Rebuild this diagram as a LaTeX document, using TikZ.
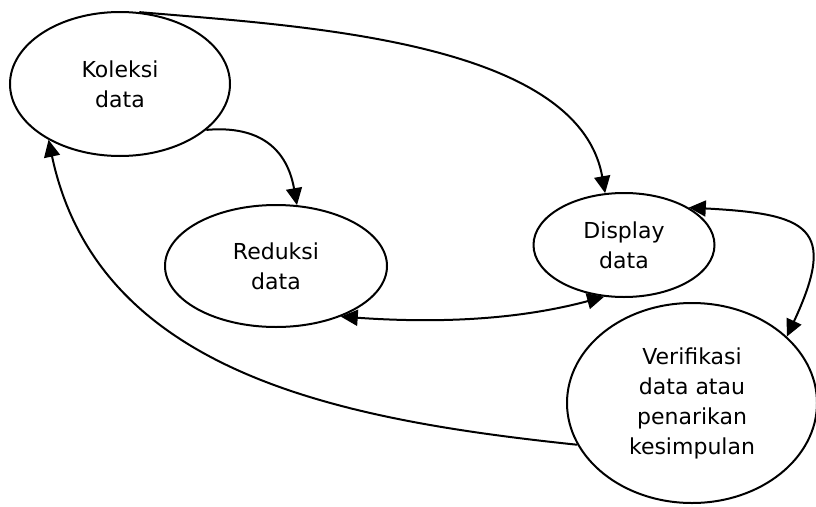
\documentclass[tikz,border=0pt]{standalone}
\usepackage{fontspec}
\setmainfont{DejaVu Sans}
\usepackage{tikz}
\usetikzlibrary{shapes.geometric, arrows.meta}
\tikzstyle{flow} = [line width=2pt, ->, >={Triangle[length=17pt,width=16pt]}]
\tikzstyle{stage} = [ellipse, draw=black, line width=2pt, inner sep=0pt, align=center, font={\fontsize{22}{30}\selectfont}]

\begin{document}
\begin{tikzpicture}[x=1pt, y=-1pt]
  \useasboundingbox (0,0) rectangle (816,506);

  % Nodes
  \node (kol) [stage, minimum width=220pt, minimum height=144pt] at (120,84) {Koleksi\\data};
  \node (red) [stage, minimum width=222pt, minimum height=122pt] at (276,266) {Reduksi\\data};
  \node (dis) [stage, minimum width=181pt, minimum height=104pt] at (624,245) {Display\\data};
  \node (ver) [stage, minimum width=250pt, minimum height=200pt] at (692,403) {Verifikasi\\data atau\\penarikan\\kesimpulan};

  % Arrows
  \draw[flow] (kol.-28) to[out=5, in=100, looseness=1.2] (red.71);
  \draw[flow] (kol.75) to[out=-5, in=100, looseness=0.8] (dis.110);
  \draw[flow, <->] (dis.30) to[out=-3, in=65, looseness=1.9] (ver.35);
  \draw[flow, <->] (red.-38) to[out=-4, in=195, looseness=0.9] (dis.-111);
  \draw[flow] (ver.200) to[out=174, in=-78] (kol.218);

\end{tikzpicture}
\end{document}
